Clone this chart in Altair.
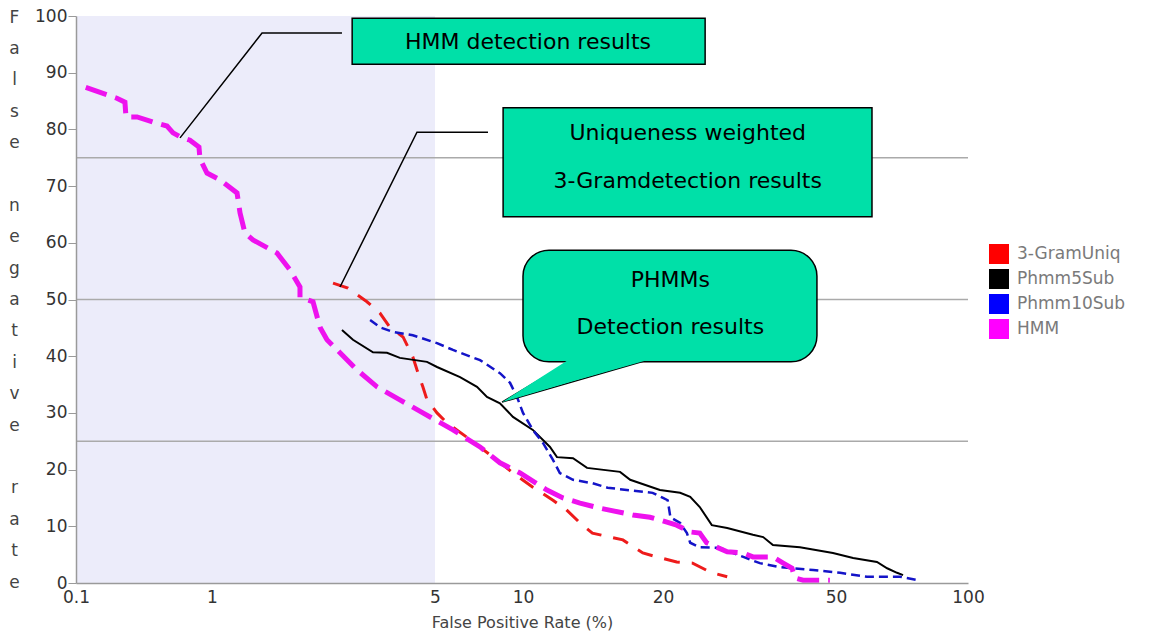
import altair as alt
import pandas as pd

# ---------------- data ----------------
series_names = ["3-GramUniq", "Phmm5Sub", "Phmm10Sub", "HMM"]
legend_colors = ["#FF0000", "#000000", "#0000FF", "#FF00FF"]

gram_fpr = [2.395, 2.668, 3.06, 3.36, 3.61, 3.97, 4.26, 4.39, 4.58, 4.72, 5.08, 5.50, 6.43,
            7.90, 9.24, 10.5, 11.6, 12.4, 13.26, 14.1, 16.4, 18.1, 19.4, 21.5, 23.4, 25.7, 28.1]
gram_fnr = [52.9, 52.0, 49.6, 47.6, 45.1, 43.4, 39.9, 37.6, 34.6, 32.3, 30.0, 28.2, 25.7,
            22.2, 19.4, 16.9, 14.6, 12.9, 10.6, 8.8, 7.6, 5.3, 4.6, 3.7, 3.5, 1.9, 1.1]

phmm5_fpr = [2.555, 2.766, 3.196, 3.536, 3.88, 4.72, 5.08, 6.09, 6.96, 7.53, 8.34, 9.24, 10.5,
             11.43, 11.83, 12.81, 13.73, 16.17, 17.0, 19.7, 21.9, 23.1, 24.3, 25.9, 28.1, 32.2,
             34.0, 35.8, 41.3, 49.2, 54.7, 62.0, 65.4, 68.9, 71.1]
phmm5_fnr = [44.6, 42.9, 40.7, 40.6, 39.7, 39.0, 38.1, 36.3, 34.6, 32.8, 31.7, 29.3, 27.0,
             24.0, 22.2, 22.0, 20.3, 19.6, 18.2, 16.4, 15.9, 15.2, 13.4, 10.2, 9.7, 8.5,
             8.1, 6.7, 6.3, 5.3, 4.4, 3.7, 2.6, 1.8, 1.4]

phmm10_fpr = [3.13, 3.36, 3.69, 4.26, 5.08, 5.76, 7.13, 8.34, 9.03, 9.54, 10.0, 10.5, 11.04,
              11.6, 12.0, 12.81, 14.1, 15.2, 19.0, 20.0, 20.5, 20.8, 21.9, 22.7, 23.1, 24.3,
              27.0, 30.6, 33.4, 37.2, 44.3, 51.1, 58.8, 70.0, 76.9]
phmm10_fnr = [46.4, 45.1, 44.3, 43.7, 42.3, 41.1, 39.3, 37.0, 35.3, 32.8, 30.0, 27.0, 24.7,
              21.7, 19.4, 18.2, 17.6, 16.8, 15.9, 15.0, 14.6, 11.6, 10.6, 8.8, 7.1, 6.3,
              6.2, 4.6, 3.5, 2.8, 2.3, 1.8, 1.1, 1.1, 0.5]

hmm_fpr = [0.118, 0.200, 0.229, 0.233, 0.281, 0.368, 0.467, 0.517, 0.582, 0.689, 0.802, 0.816,
           0.919, 1.059, 1.198, 1.224, 1.269, 1.344, 1.598, 1.756, 1.887, 1.887, 2.073, 2.18,
           2.293, 2.519, 2.847, 3.29, 3.88, 4.58, 5.76, 7.13, 8.34, 9.77, 11.26, 12.19, 13.26,
           14.64, 17.24, 18.75, 19.7, 21.5, 23.1, 24.3, 25.2, 28.1, 30.6, 32.2, 35.8, 37.8,
           39.6, 40.2, 42.0, 48.4]
hmm_fnr = [87.4, 85.5, 84.8, 82.2, 82.2, 81.3, 80.6, 79.4, 78.7, 78.1, 76.9, 74.8,
           72.3, 71.1, 68.8, 65.3, 61.7, 60.5, 58.2, 55.2, 52.2, 50.4, 49.6, 45.1,
           42.9, 40.6, 37.6, 34.6, 32.3, 30.0, 27.0, 24.0, 21.2, 19.4, 16.4, 15.0, 14.1,
           13.2, 12.0, 11.6, 11.1, 10.2, 9.0, 8.8, 7.1, 5.5, 5.3, 4.6, 4.6, 3.5,
           2.6, 0.9, 0.5, 0.5]

x_tick_values = [0.1, 1, 5, 10, 20, 50, 100]
y_tick_values = [0, 10, 20, 30, 40, 50, 60, 70, 80, 90, 100]
threshold_levels = [25, 50, 75]
shade_fpr = [0.1, 5]
shade_fnr = [0, 100]

x_title = "False Positive Rate (%)"
y_title = "False negative rate"

# callouts (in data units)
box_labels = ["hmm", "uniq"]
box_fpr = [2.75, 8.55]
box_fpr2 = [25.0, 60.4]
box_fnr = [91.5, 64.6]
box_fnr2 = [99.6, 83.8]

bubble_fpr = [10.0]
bubble_fpr2 = [45.2]
bubble_fnr = [39.0]
bubble_fnr2 = [58.7]

text_lines = ["HMM detection results", "Uniqueness weighted", "3-Gramdetection results",
              "PHMMs", "Detection results"]
text_fpr = [10.25, 22.8, 22.8, 20.8, 20.8]
text_fnr = [95.4, 79.4, 70.9, 53.4, 45.1]

leader_id = ["hmm", "hmm", "hmm", "uniq", "uniq", "uniq", "ptr", "ptr", "ptr"]
leader_fpr = [0.582, 1.435, 2.555, 2.519, 4.39, 7.59, 12.7, 8.48, 18.3]
leader_fnr = [78.5, 97.0, 97.0, 52.2, 79.5, 79.5, 39.2, 31.9, 39.2]

ptr_fpr = [8.48, 12.7, 18.3]
ptr_fnr = [31.9, 39.7, 39.7]
ptr_fnr2 = [31.9, 35.5, 39.2]

# ---------------- tables ----------------
def series_df(name, xs, ys):
    return pd.DataFrame({"series": name, "fpr": xs, "fnr": ys, "idx": list(range(len(xs)))})

curves = {
    "3-GramUniq": series_df("3-GramUniq", gram_fpr, gram_fnr),
    "Phmm5Sub": series_df("Phmm5Sub", phmm5_fpr, phmm5_fnr),
    "Phmm10Sub": series_df("Phmm10Sub", phmm10_fpr, phmm10_fnr),
    "HMM": series_df("HMM", hmm_fpr, hmm_fnr),
}

W, H = 892, 567
FONT = "DejaVu Sans"
GREEN = "#00E0A8"

x_scale = alt.Scale(type="log", domain=x_tick_values,
                    range=[0, 136, 359, 447, 587, 760, 892], nice=False)
y_scale = alt.Scale(domain=[0, 100], nice=False, zero=False)

# vertical, letter-by-letter axis title (blank line between words)
y_title_lines = []
for word_i, word in enumerate(y_title.split(" ")):
    if word_i:
        y_title_lines.append("\u200b")
    y_title_lines.extend(list(word))

X_AXIS = alt.Axis(values=x_tick_values, format="~g", ticks=False, grid=False,
                  domainColor="#9a9a9a", domainWidth=1.5, labelFont=FONT, labelFontSize=17,
                  labelColor="#333333", labelPadding=6, labelFlush=False,
                  title=x_title, titleFont=FONT, titleFontSize=16, titleFontWeight="normal",
                  titleColor="#444444", titlePadding=9, zindex=1)
Y_AXIS = alt.Axis(values=y_tick_values, grid=False, tickSize=8, tickColor="#9a9a9a",
                  tickWidth=1, domainColor="#9a9a9a", domainWidth=1.5, labelFont=FONT,
                  labelFontSize=17, labelColor="#333333", labelPadding=1,
                  title=y_title_lines,
                  titleFont=FONT, titleFontSize=17, titleFontWeight="normal",
                  titleColor="#444444", titleAngle=0, titleX=-62, titleY=6,
                  titleAlign="center", titleBaseline="alphabetic", titleLineHeight=31.4,
                  zindex=1)


def X(f="fpr"):
    return alt.X(f"{f}:Q", scale=x_scale, axis=X_AXIS)


def Y(f="fnr"):
    return alt.Y(f"{f}:Q", scale=y_scale, axis=Y_AXIS)


shade = alt.Chart(pd.DataFrame({"fpr": [shade_fpr[0]], "fpr2": [shade_fpr[1]],
                                "fnr": [shade_fnr[0]], "fnr2": [shade_fnr[1]]})).mark_rect(
    color="#ECECFA").encode(x=X(), x2="fpr2:Q", y=Y(), y2="fnr2:Q")

rules = alt.Chart(pd.DataFrame({"fnr": threshold_levels})).mark_rule(
    color="#aaaaaa", strokeWidth=1.5).encode(y=Y())

styles = {
    "3-GramUniq": dict(color="#EE1B1B", strokeWidth=3, strokeDash=[16, 12]),
    "Phmm5Sub": dict(color="#000000", strokeWidth=2),
    "Phmm10Sub": dict(color="#1414C8", strokeWidth=2.5, strokeDash=[9, 5]),
    "HMM": dict(color="#EE12EE", strokeWidth=5, strokeDash=[22, 9]),
}

lines = []
for name in series_names:
    lines.append(alt.Chart(curves[name]).mark_line(**styles[name]).encode(
        x=X(), y=Y(), order="idx:Q"))

leaders = alt.Chart(pd.DataFrame({"id": leader_id, "fpr": leader_fpr, "fnr": leader_fnr,
                                  "idx": list(range(len(leader_id)))})).mark_line(
    color="black", strokeWidth=1.5).encode(x=X(), y=Y(), detail="id:N", order="idx:Q")

boxes = alt.Chart(pd.DataFrame({"id": box_labels, "fpr": box_fpr, "fpr2": box_fpr2,
                                "fnr": box_fnr, "fnr2": box_fnr2})).mark_rect(
    fill=GREEN, stroke="black", strokeWidth=1.5).encode(
    x=X(), x2="fpr2:Q", y=Y(), y2="fnr2:Q")

bubble = alt.Chart(pd.DataFrame({"fpr": bubble_fpr, "fpr2": bubble_fpr2,
                                 "fnr": bubble_fnr, "fnr2": bubble_fnr2})).mark_rect(
    fill=GREEN, stroke="black", strokeWidth=1.5, cornerRadius=26).encode(
    x=X(), x2="fpr2:Q", y=Y(), y2="fnr2:Q")

pointer = alt.Chart(pd.DataFrame({"fpr": ptr_fpr, "fnr": ptr_fnr, "fnr2": ptr_fnr2})).mark_area(
    color=GREEN, opacity=1).encode(x=X(), y=Y(), y2="fnr2:Q")

texts = alt.Chart(pd.DataFrame({"fpr": text_fpr, "fnr": text_fnr, "t": text_lines})).mark_text(
    font=FONT, fontSize=22, color="black", align="center", baseline="middle").encode(
    x=X(), y=Y(), text="t:N")

legend_layer = alt.Chart(pd.DataFrame({"series": series_names})).mark_square(
    opacity=0, filled=True).encode(
    color=alt.Color("series:N", scale=alt.Scale(domain=series_names, range=legend_colors),
                    legend=alt.Legend(orient="none", legendX=913, legendY=228, title=None,
                                      symbolType="square", symbolSize=400, symbolOpacity=1,
                                      symbolStrokeWidth=0, labelFont=FONT, labelFontSize=17,
                                      labelColor="#7a7a7a", labelOffset=8, rowPadding=5,
                                      padding=0)))

chart = alt.layer(shade, rules, *lines, leaders, boxes, bubble, pointer, texts,
                  legend_layer).properties(
    width=W, height=H,
    autosize=alt.AutoSizeParams(type="none"),
    padding={"left": 68, "top": 8, "right": 170, "bottom": 49},
).configure_view(stroke=None)

chart.save("out.html", embed_options={"renderer": "svg", "actions": False})
